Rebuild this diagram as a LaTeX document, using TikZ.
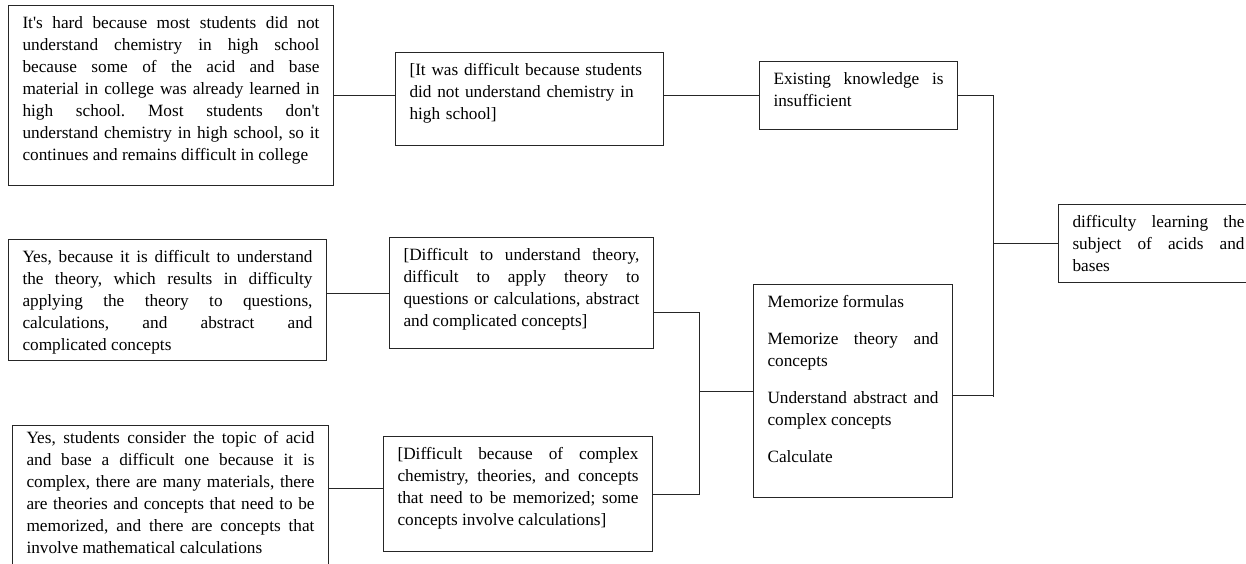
\documentclass[tikz,border=0pt]{standalone}
\usepackage{fontspec}
\setmainfont{Liberation Serif}[Ligatures=CommonOff]
\hyphenpenalty=10000
\tolerance=10000
\frenchspacing

\tikzset{
  kotak/.style={draw=black!85, line width=1pt, anchor=north west,
    inner xsep=14pt, inner ysep=8pt, text height=15.4pt, align=justify,
    font=\fontsize{17.25pt}{22pt}\selectfont},
  garis/.style={draw=black!85, line width=1pt}
}

\begin{document}
\begin{tikzpicture}[x=1pt,y=-1pt]
\useasboundingbox (0,0) rectangle (1246,564);

\node[kotak, text width=297pt, text depth=148.6pt] (a) at (8,5) {It\textquotesingle s hard because most students did not\linebreak
understand chemistry in high school\linebreak
because some of the acid and base\linebreak
material in college was already learned in\linebreak
high school. Most students don\textquotesingle t\linebreak
understand chemistry in high school, so it\linebreak
continues and remains difficult in college};

\node[kotak, align=left, text width=240pt, text depth=61.6pt] (b) at (395,52) {[It was difficult because students did not understand chemistry in high school]};

\node[kotak, text width=170pt, text depth=36.6pt] (c) at (759,61) {Existing knowledge is\linebreak insufficient};

\node[kotak, text width=172pt, text depth=46.6pt] (d) at (1058,204) {difficulty learning the\linebreak
subject of acids and\linebreak bases};

\node[kotak, text width=171pt, text depth=181.6pt] (e) at (753,284) {\setlength{\parskip}{15pt}Memorize formulas\par
Memorize theory and\linebreak concepts\par
Understand abstract and\linebreak complex concepts\par
Calculate};

\node[kotak, text width=290pt, text depth=89.6pt] (f) at (8,239) {Yes, because it is difficult to understand\linebreak
the theory, which results in difficulty\linebreak
applying the theory to questions,\linebreak
calculations, and abstract and\linebreak
complicated concepts};

\node[kotak, text width=236pt, text depth=79.6pt] (g) at (389,237) {[Difficult to understand theory,\linebreak
difficult to apply theory to\linebreak
questions or calculations, abstract\linebreak
and complicated concepts]};

\node[kotak, text width=241pt, text depth=83.6pt] (h) at (383,436) {[Difficult because of complex\linebreak
chemistry, theories, and concepts\linebreak
that need to be memorized; some\linebreak
concepts involve calculations]};

\node[kotak, inner ysep=2.5pt, text width=288pt, text depth=150pt] (i) at (12,425) {Yes, students consider the topic of acid\linebreak
and base a difficult one because it is\linebreak
complex, there are many materials, there\linebreak
are theories and concepts that need to be\linebreak
memorized, and there are concepts that\linebreak
involve mathematical calculations};

% connectors
\coordinate (ka) at (993,397);
\coordinate (ki) at (699,312);

\draw[garis] (a.east) -- (a.east -| b.west);
\draw[garis] (c.west -| b.east) -- (c.west);
\draw[garis] (c.east) -| (ka);
\draw[garis] ([yshift=-4.5pt]e.east) -- ([yshift=-4.5pt]e.east -| ka);
\draw[garis] (d.west -| ka) -- (d.west);

\draw[garis] (f.east |- g.west) -- (g.west);
\draw[garis] (g.east |- ki) -- (ki) |- (h.east);
\draw[garis] (e.west -| ki) -- (e.west);
\draw[garis] ([yshift=5.5pt]h.west -| i.east) -- ([yshift=5.5pt]h.west);
\end{tikzpicture}
\end{document}
